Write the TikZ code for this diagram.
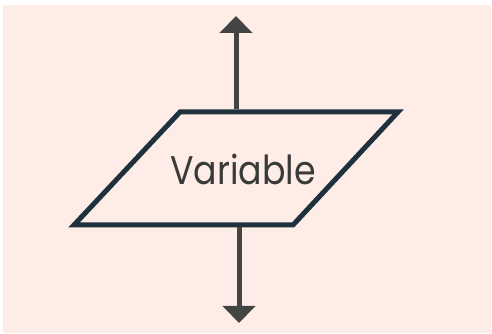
\documentclass[tikz,border=0pt]{standalone}
\usepackage{fontspec}
\setmainfont{Poppins}
\newfontfamily\labelfont{Poppins}[FakeStretch=0.87]
\usepackage{xcolor}
\usepackage{tikz}
\usetikzlibrary{arrows.meta, positioning, calc}
\definecolor{bgpeach}{RGB}{253, 237, 230}
\definecolor{boxnavy}{RGB}{31, 49, 62}
\definecolor{arrowgray}{RGB}{68, 68, 68}
\definecolor{textgray}{RGB}{58, 58, 58}

\begin{document}
\begin{tikzpicture}[x=1pt, y=1pt, >={Triangle[width=32pt, length=17pt]}]
    \useasboundingbox (0,0) rectangle (492,334);
    \fill[bgpeach] (3,1) rectangle (491,329);
    % parallelogram corners
    \coordinate (bl) at (74,109);
    \coordinate (br) at (293,109);
    \coordinate (tr) at (398,222);
    \coordinate (tl) at (180,222);
    \draw[boxnavy, line width=5pt] (bl) -- (br) -- (tr) -- (tl) -- cycle;
    \node[textgray, font=\labelfont\fontsize{40}{48}\selectfont] (var) at (243,165) {Variable};
    % arrows in and out
    \coordinate (topout) at (236,224.5);
    \coordinate (uptip) at (236,318);
    \coordinate (botout) at (239,106.5);
    \coordinate (downtip) at (239,11);
    \draw[->, arrowgray, line width=5pt] (topout) -- (uptip);
    \draw[->, arrowgray, line width=5pt] (botout) -- (downtip);
\end{tikzpicture}
\end{document}
